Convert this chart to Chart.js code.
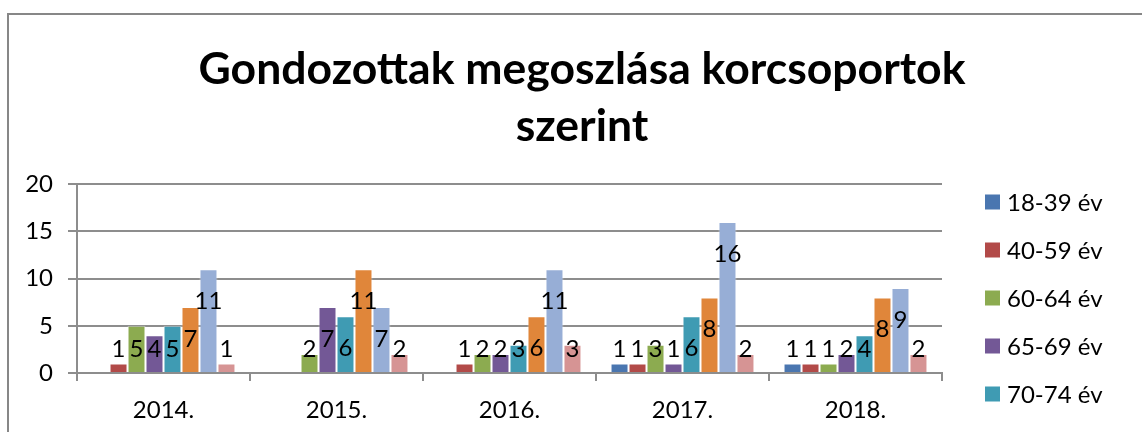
<!DOCTYPE html>
<html>
<head>
<meta charset="utf-8">
<script src="https://cdn.jsdelivr.net/npm/chart.js@4.4.0/dist/chart.umd.min.js"></script>
<style>
  html, body { margin: 0; padding: 0; background: #fff; overflow: hidden; }
  #frame {
    position: absolute; left: 7px; top: 13px;
    width: 1146px; height: 500px;
    border-left: 2px solid #878787; border-top: 2px solid #878787;
  }
  #chart { display: block; }
</style>
</head>
<body>
<div id="frame"><canvas id="chart" width="1146" height="417"></canvas></div>
<script>
var years = ["2014.", "2015.", "2016.", "2017.", "2018."];
var groupNames = ["18-39 év", "40-59 év", "60-64 év", "65-69 év", "70-74 év", "75-79 év", "80-89 év", "90 év felett"];

var age18to39 = [0, 0, 0, 1, 1];
var age40to59 = [1, 0, 1, 1, 1];
var age60to64 = [5, 2, 2, 3, 1];
var age65to69 = [4, 7, 2, 1, 2];
var age70to74 = [5, 6, 3, 6, 4];
var age75to79 = [7, 11, 6, 8, 8];
var age80to89 = [11, 7, 11, 16, 9];
var age90plus = [1, 2, 3, 2, 2];

var yTicks = [0, 5, 10, 15, 20];

var seriesValues = [age18to39, age40to59, age60to64, age65to69, age70to74, age75to79, age80to89, age90plus];
var colors = ["#4a76b0", "#b24a48", "#8cab50", "#735896", "#3f9bb3", "#e0863a", "#97aed6", "#d69494"];

var FONT = "Lato, 'Open Sans', sans-serif";
var GRID = "#8d8d8d";

var datasets = seriesValues.map(function (vals, i) {
  return {
    label: groupNames[i],
    data: vals,
    backgroundColor: colors[i],
    borderColor: "rgba(255,255,255,0.45)",
    borderWidth: function (c) { return c.raw ? 1 : 0; },
    categoryPercentage: 0.832,
    barPercentage: 1,
  };
});

// value labels, Excel style: a bit below the bar top, never lower than a floor
var valueLabels = {
  id: "valueLabels",
  afterDatasetsDraw: function (chart) {
    var ctx = chart.ctx;
    var floorY = chart.scales.y.getPixelForValue(2.63);
    ctx.save();
    ctx.font = "24px " + FONT;
    ctx.fillStyle = "#000";
    ctx.textAlign = "center";
    ctx.textBaseline = "middle";
    chart.data.datasets.forEach(function (ds, di) {
      var meta = chart.getDatasetMeta(di);
      meta.data.forEach(function (bar, i) {
        var v = ds.data[i];
        if (!v) return;
        var y = Math.min(bar.y + 31, floorY);
        ctx.fillText(String(v), bar.x, y + 1);
      });
    });
    ctx.restore();
  },
};

// legend at the right, cut off by the picture edge like the original
var sideLegend = {
  id: "sideLegend",
  afterDraw: function (chart) {
    var ctx = chart.ctx;
    var x = chart.chartArea.right + 43;
    ctx.save();
    ctx.font = "24px " + FONT;
    ctx.textBaseline = "middle";
    chart.data.datasets.forEach(function (ds, i) {
      var cy = 187 + 48 * i;
      ctx.fillStyle = ds.backgroundColor;
      ctx.fillRect(x, cy - 7.5, 15, 15);
      ctx.fillStyle = "#000";
      ctx.fillText(ds.label, x + 22, cy + 1);
    });
    ctx.restore();
  },
};

new Chart(document.getElementById("chart"), {
  type: "bar",
  data: { labels: years, datasets: datasets },
  options: {
    responsive: false,
    animation: false,
    plugins: {
      legend: { display: false },
      tooltip: { enabled: false },
      title: {
        display: true,
        text: ["Gondozottak megoszlása korcsoportok", "szerint"],
        color: "#000",
        font: { family: FONT, size: 44.5, weight: "bold", lineHeight: 1.28 },
        padding: { top: 26.5, bottom: 28.8 },
      },
    },
    scales: {
      x: {
        grid: { drawOnChartArea: false, drawTicks: true, tickLength: 8, color: GRID, lineWidth: 2 },
        border: { display: true, color: GRID, width: 2 },
        ticks: { color: "#000", font: { family: FONT, size: 24 }, padding: 15 },
        afterFit: function (s) { s.height = 59; },
      },
      y: {
        min: 0,
        max: 20,
        afterBuildTicks: function (s) { s.ticks = yTicks.map(function (v) { return { value: v }; }); },
        grid: { color: GRID, lineWidth: 2, tickLength: 9 },
        border: { display: true, color: GRID, width: 2 },
        ticks: { color: "#000", font: { family: FONT, size: 24 }, padding: 15 },
        afterFit: function (s) { s.width = 68; },
      },
      // empty right-hand axis that only keeps room for the legend
      legendRoom: {
        type: "linear",
        position: "right",
        display: true,
        grid: { display: false, drawTicks: false },
        border: { display: false },
        ticks: { display: false },
        afterFit: function (s) { s.width = 213; },
      },
    },
  },
  plugins: [valueLabels, sideLegend],
});
</script>
</body>
</html>
